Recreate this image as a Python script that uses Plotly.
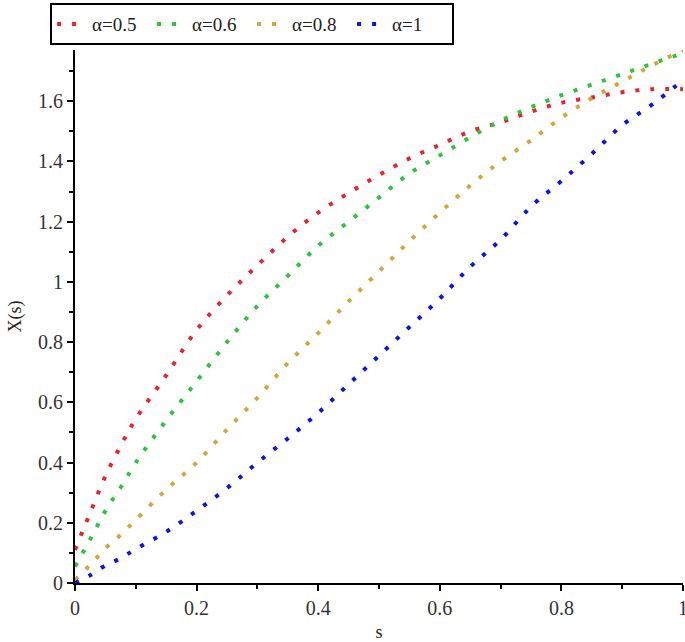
import plotly.graph_objects as go

# valores
s = [0, 0.025, 0.05, 0.075, 0.1, 0.15, 0.2, 0.25, 0.3, 0.35, 0.4, 0.45,
     0.5, 0.55, 0.6, 0.65, 0.7, 0.75, 0.8, 0.85, 0.9, 0.95, 1.0]

x_a05 = [0.11, 0.233, 0.355, 0.455, 0.545, 0.69, 0.84, 0.955, 1.055, 1.15, 1.23, 1.295,
         1.355, 1.41, 1.455, 1.50, 1.53, 1.565, 1.595, 1.612, 1.63, 1.64, 1.64]
x_a06 = [0.055, 0.145, 0.24, 0.317, 0.40, 0.54, 0.67, 0.80, 0.92, 1.02, 1.12, 1.20,
         1.28, 1.36, 1.42, 1.48, 1.535, 1.58, 1.62, 1.655, 1.69, 1.725, 1.76]
x_a08 = [0.01, 0.06, 0.115, 0.16, 0.21, 0.31, 0.40, 0.51, 0.615, 0.73, 0.83, 0.935,
         1.035, 1.135, 1.23, 1.32, 1.40, 1.47, 1.545, 1.61, 1.665, 1.72, 1.77]
x_a1 = [0.0, 0.026, 0.058, 0.082, 0.113, 0.17, 0.24, 0.315, 0.40, 0.48, 0.565, 0.66,
        0.755, 0.85, 0.945, 1.05, 1.14, 1.25, 1.335, 1.425, 1.52, 1.59, 1.67]

ticks_x = [0, 0.2, 0.4, 0.6, 0.8, 1]
ticks_y = [0, 0.2, 0.4, 0.6, 0.8, 1, 1.2, 1.4, 1.6]

series = [
    ("α=0.5", x_a05, "#e8232b"),
    ("α=0.6", x_a06, "#2ec43a"),
    ("α=0.8", x_a08, "#d4a63a"),
    ("α=1", x_a1, "#0a14e6"),
]

serif = "Liberation Serif"

fig = go.Figure()
for nombre, ys, color in series:
    fig.add_trace(go.Scatter(
        x=s, y=ys, name=nombre, mode="lines",
        line=dict(color=color, width=4, dash="4px,11px", shape="spline"),
    ))

eje = dict(
    showline=True, linecolor="black", linewidth=2, showgrid=False, zeroline=False,
    automargin=False, ticks="outside", ticklen=6, tickwidth=2, tickcolor="black",
    ticklabeloverflow="allow",
    tickfont=dict(family=serif, size=20, color="#333"),
)
menor = dict(ticks="outside", ticklen=4, tickwidth=2, tickcolor="black", dtick=0.1, tick0=0)

fig.update_layout(
    width=685, height=642,
    paper_bgcolor="white", plot_bgcolor="white",
    margin=dict(l=75, r=2, t=50, b=59),
    font=dict(family=serif, color="#222"),
    xaxis=dict(eje, range=[0, 1], tickmode="array", tickvals=ticks_x,
               ticktext=[str(v) for v in ticks_x], minor=menor,
               title=dict(text="s", font=dict(family=serif, size=18), standoff=8)),
    yaxis=dict(eje, range=[0, 1.77], tickmode="array", tickvals=ticks_y,
               ticktext=[str(v) for v in ticks_y], minor=menor,
               title=dict(text="X(s)", font=dict(family=serif, size=18), standoff=12)),
    legend=dict(orientation="h", x=-0.041, y=1.088, xanchor="left", yanchor="top",
                bordercolor="black", borderwidth=2, bgcolor="white",
                font=dict(family=serif, size=19, color="#222"),
                itemwidth=30, entrywidth=55, tracegroupgap=0),
)

# quitar el margen por defecto del body para que la figura empiece en (0, 0)
fig.write_html("out.html", config={"displayModeBar": False},
               post_script="document.body.style.margin='0';")
